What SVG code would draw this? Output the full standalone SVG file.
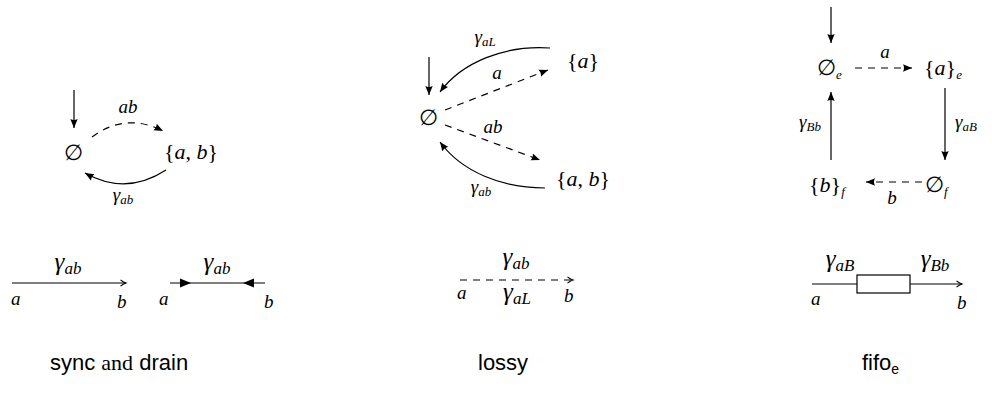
<svg xmlns="http://www.w3.org/2000/svg" width="992" height="394" viewBox="0 0 992 394">
<style>
.m{font-family:"Liberation Serif",serif;font-style:italic;fill:#000}
.r{font-style:normal}
.n{font-size:22px}
.l{font-size:19px}
.L{font-size:25px}
.s{font-size:13px}
.S{font-size:17px}
.es{font-family:"DejaVu Serif",serif;font-style:normal}
.cap{font-family:"Liberation Sans",sans-serif;font-size:22px;fill:#000}
.e{fill:none;stroke:#000;stroke-width:1.2}
.d{stroke-dasharray:7,6}
</style>
<defs>
<marker id="ah" markerUnits="userSpaceOnUse" markerWidth="12" markerHeight="10" refX="9" refY="4" orient="auto">
<path d="M0,0.3 L9,4 L0,7.7 Q2,4 0,0.3 z" fill="#000"/>
</marker>
<marker id="to" markerUnits="userSpaceOnUse" markerWidth="10" markerHeight="10" refX="6" refY="4" orient="auto">
<path d="M0.5,0.8 Q3,3 6,4 Q3,5 0.5,7.2" fill="none" stroke="#000" stroke-width="1.1"/>
</marker>
</defs>

<!-- sync / drain state machine -->
<g id="sync-empty"><text class="m n" x="73" y="160" text-anchor="middle"><tspan class="es">∅</tspan></text></g>
<g id="sync-ab"><text class="m n" x="191" y="159" text-anchor="middle"><tspan class="r">{</tspan>a<tspan class="r">, </tspan>b<tspan class="r">}</tspan></text></g>

<!-- lossy state machine -->
<g id="lossy-empty"><text class="m n" x="428" y="125" text-anchor="middle"><tspan class="es">∅</tspan></text></g>
<g id="lossy-a"><text class="m n" x="583" y="68" text-anchor="middle"><tspan class="r">{</tspan>a<tspan class="r">}</tspan></text></g>
<g id="lossy-ab"><text class="m n" x="583" y="186" text-anchor="middle"><tspan class="r">{</tspan>a<tspan class="r">, </tspan>b<tspan class="r">}</tspan></text></g>

<!-- fifo state machine -->
<g id="fifo-empty-e"><text class="m n" x="817" y="75"><tspan class="es">∅</tspan><tspan class="s" dy="4">e</tspan></text></g>
<g id="fifo-a-e"><text class="m n" x="924" y="75"><tspan class="r">{</tspan>a<tspan class="r">}</tspan><tspan class="s" dy="4">e</tspan></text></g>
<g id="fifo-empty-f"><text class="m n" x="925" y="192"><tspan class="es">∅</tspan><tspan class="s" dy="4">f</tspan></text></g>
<g id="fifo-b-f"><text class="m n" x="809" y="192"><tspan class="r">{</tspan>b<tspan class="r">}</tspan><tspan class="s" dy="4">f</tspan></text></g>

<!-- connector primitives (bottom row) -->
<g id="sync-channel">
<text class="m L" x="68" y="270" text-anchor="middle">γ<tspan class="S" dy="4">ab</tspan></text>
<text class="m l" x="11" y="305">a</text>
<text class="m l" x="117" y="308">b</text>
</g>
<g id="drain-channel">
<text class="m L" x="217" y="270" text-anchor="middle">γ<tspan class="S" dy="4">ab</tspan></text>
<text class="m l" x="159" y="305">a</text>
<text class="m l" x="264" y="308">b</text>
</g>
<g id="lossy-channel">
<text class="m L" x="516" y="265" text-anchor="middle">γ<tspan class="S" dy="4">ab</tspan></text>
<text class="m l" x="457" y="299">a</text>
<text class="m L" x="517" y="300" text-anchor="middle">γ<tspan class="S" dy="4">aL</tspan></text>
<text class="m l" x="564" y="302">b</text>
</g>
<g id="fifo-channel">
<rect x="857" y="275" width="53" height="18" fill="#fff" stroke="#000" stroke-width="1.2"/>
<text class="m L" x="840" y="267" text-anchor="middle">γ<tspan class="S" dy="4">aB</tspan></text>
<text class="m L" x="935" y="267" text-anchor="middle">γ<tspan class="S" dy="4">Bb</tspan></text>
<text class="m l" x="811" y="305">a</text>
<text class="m l" x="957" y="309">b</text>
</g>

<g id="connectors">
<!-- sync/drain automaton -->
<path class="e" d="M74,90 L74,128" marker-end="url(#ah)"/>
<path class="e d" d="M92,137 Q126,112 163,131" marker-end="url(#ah)"/>
<text class="m l" x="128" y="113" text-anchor="middle">ab</text>
<path class="e" d="M166,170 Q126,196 85,173" marker-end="url(#ah)"/>
<text class="m l" x="123" y="201" text-anchor="middle">γ<tspan class="s" dy="3">ab</tspan></text>

<!-- lossy automaton -->
<path class="e" d="M429,57 L429,95" marker-end="url(#ah)"/>
<path class="e" d="M550,48 C505,45 462,62 440,92" marker-end="url(#ah)"/>
<text class="m l" x="485" y="43" text-anchor="middle">γ<tspan class="s" dy="3">aL</tspan></text>
<path class="e d" d="M445,110 L548,70" marker-end="url(#ah)"/>
<text class="m l" x="497" y="79" text-anchor="middle">a</text>
<path class="e d" d="M445,125 L540,160" marker-end="url(#ah)"/>
<text class="m l" x="493" y="133" text-anchor="middle">ab</text>
<path class="e" d="M545,188 C502,188 462,172 440,142" marker-end="url(#ah)"/>
<text class="m l" x="481" y="193" text-anchor="middle">γ<tspan class="s" dy="3">ab</tspan></text>

<!-- fifo automaton -->
<path class="e" d="M831,7 L831,43" marker-end="url(#ah)"/>
<path class="e d" d="M855,68 L912,68" marker-end="url(#ah)"/>
<text class="m l" x="885" y="58" text-anchor="middle">a</text>
<path class="e" d="M945,88 L945,160" marker-end="url(#ah)"/>
<text class="m l" x="955" y="128">γ<tspan class="s" dy="3">aB</tspan></text>
<path class="e d" d="M922,182 L866,182" marker-end="url(#ah)"/>
<text class="m l" x="892" y="204" text-anchor="middle">b</text>
<path class="e" d="M831,160 L831,92" marker-end="url(#ah)"/>
<text class="m l" x="821" y="128" text-anchor="end">γ<tspan class="s" dy="3">Bb</tspan></text>

<!-- bottom row channel lines -->
<path class="e" d="M12,283 L126,283" marker-end="url(#to)"/>
<path class="e" d="M170,283 L265,283"/>
<path d="M180,278.5 L191,283 L180,287.5 z" fill="#000"/>
<path d="M254,278.5 L243,283 L254,287.5 z" fill="#000"/>
<path class="e d" d="M460,280 L573,280" stroke-dasharray="8,6" marker-end="url(#to)"/>
<path class="e" d="M812,284 L857,284 M910,284 L962,284" marker-end="url(#to)"/>
</g>

<!-- captions -->
<text class="cap" x="50" y="370">sync <tspan font-family="Liberation Serif, serif">and</tspan> drain</text>
<text class="cap" x="478" y="370">lossy</text>
<text class="cap" x="862" y="370">fifo<tspan font-size="14" dy="4">e</tspan></text>
</svg>
